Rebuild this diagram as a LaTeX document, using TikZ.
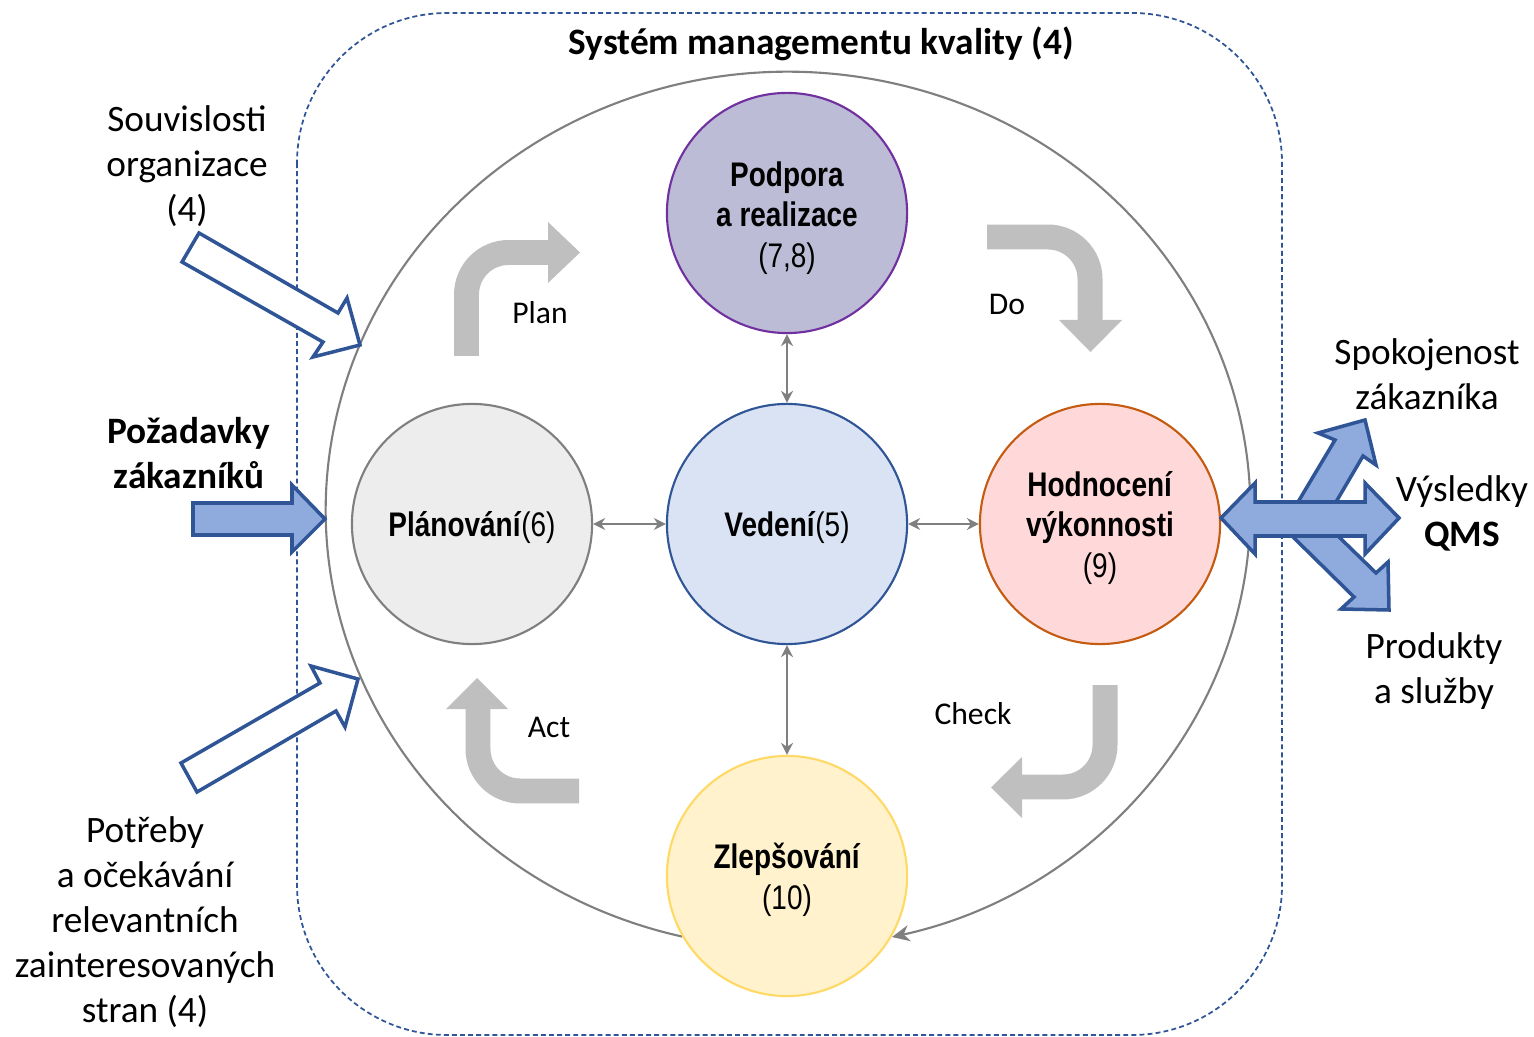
\documentclass[tikz,border=0pt]{standalone}
\usepackage{fontspec}
\setmainfont{Carlito}
\newfontfamily\narrowfont[FakeStretch=0.82]{Liberation Sans}
\usetikzlibrary{arrows.meta}
\definecolor{qblue}{HTML}{2F5597}
\definecolor{qfill}{HTML}{8FAADC}
\definecolor{pgray}{HTML}{BFBFBF}
\definecolor{lgray}{HTML}{7F7F7F}
\definecolor{podfill}{HTML}{BCBCD6}
\definecolor{podline}{HTML}{7030A0}
\definecolor{vedfill}{HTML}{DAE3F3}
\definecolor{planfill}{HTML}{EDEDED}
\definecolor{hodfill}{HTML}{FFD9D9}
\definecolor{hodline}{HTML}{C55A11}
\definecolor{zlfill}{HTML}{FFF2CC}
\definecolor{zlline}{HTML}{FFD966}
\begin{document}
\begin{tikzpicture}[x=0.01cm,y=0.01cm,
  circ/.style={circle, minimum size=2.4cm, inner sep=0pt, line width=0.6pt},
  ctext/.style={align=center, inner sep=0pt,
     font=\narrowfont\fontsize{9.7}{11.6}\selectfont},
  lbl/.style={align=center, inner sep=0pt, font=\fontsize{10.6}{12.8}\selectfont},
  pdca/.style={inner sep=0pt, font=\fontsize{9}{11}\selectfont},
  bendarrow/.style={line width=7.1pt, draw=pgray, rounded corners=0.42cm},
  headarrow/.style={fill=pgray},
  link/.style={draw=lgray, line width=0.6pt, {Stealth[length=3.4pt,width=3.4pt]}-{Stealth[length=3.4pt,width=3.4pt]}},
  arcline/.style={draw=lgray, line width=0.6pt, -{Stealth[length=5pt,width=4.6pt]}},
  hollow/.style={draw=qblue, fill=white, line width=1pt, line join=miter},
  solidarrow/.style={draw=qblue, fill=qfill, line width=1pt, line join=miter},
  frame/.style={draw=qblue, line width=0.5pt, dash pattern=on 1.4pt off 0.9pt, rounded corners=1.5cm}
]
\useasboundingbox (0,0) rectangle (1534,-1037);

% dashed frame
\draw[frame] (297,-13) rectangle (1282,-1035);

% big cycle arc
\coordinate (ellc) at (788,-510);
\draw[arcline] (ellc) ++(256.8:4.62cm and 4.38cm) arc[start angle=256.8, end angle=-77, x radius=4.62cm, y radius=4.38cm];

% title
\node[lbl, font=\bfseries\fontsize{10.6}{12.8}\selectfont] (title) at (821,-44) {Systém managementu kvality (4)};

% circles
\node[circ, draw=podline, fill=podfill] (pod) at (787,-213) {};
\node[circ, draw=qblue, fill=vedfill] (ved) at (787,-524) {};
\node[circ, draw=lgray, fill=planfill] (plan) at (472,-524) {};
\node[circ, draw=hodline, fill=hodfill] (hod) at (1100,-524) {};
\node[circ, draw=zlline, fill=zlfill] (zl) at (787,-876) {};

\node[ctext] (podt) at (787,-218) {\textbf{Podpora}\\\textbf{a realizace}\\(7,8)};
\node[ctext] (vedt) at (787,-528) {\textbf{Vedení}(5)};
\node[ctext] (plant) at (472,-528) {\textbf{Plánování}(6)};
\node[ctext] (hodt) at (1100,-528) {\textbf{Hodnocení}\\\textbf{výkonnosti}\\(9)};
\node[ctext] (zlt) at (787,-880) {\textbf{Zlepšování}\\(10)};

% links
\draw[link] (plan.east) -- (ved.west);
\draw[link] (ved.east) -- (hod.west);
\draw[link] (pod.south) -- (ved.north);
\draw[link] (ved.south) -- (zl.north);

% PDCA bent arrows
\draw[bendarrow] (466.5,-356) -- (466.5,-252.5) -- (549,-252.5);
\fill[headarrow] (548,-222) -- (580,-252.5) -- (548,-283) -- cycle;
\draw[bendarrow] (987,-237) -- (1090,-237) -- (1090,-321);
\fill[headarrow] (1059,-320) -- (1090.5,-352) -- (1122,-320) -- cycle;
\draw[bendarrow] (1105,-685) -- (1105,-787) -- (1021,-787);
\fill[headarrow] (1022,-757) -- (991,-787.5) -- (1022,-818) -- cycle;
\draw[bendarrow] (579,-791) -- (478,-791) -- (478,-708);
\fill[headarrow] (446,-709) -- (477,-678) -- (508,-709) -- cycle;

\node[pdca] (tplan) at (540,-313) {Plan};
\node[pdca] (tdo) at (1007,-304) {Do};
\node[pdca] (tcheck) at (973,-714) {Check};
\node[pdca] (tact) at (549,-727) {Act};

% left inputs
\draw[hollow] (199,-233) -- (338,-313) -- (347,-298) -- (360,-345) -- (313,-357) -- (323,-342) -- (182,-262) -- cycle;
\draw[hollow] (181,-763) -- (320,-683) -- (311,-666) -- (358,-679) -- (345,-727) -- (336,-711) -- (197,-792) -- cycle;
\draw[solidarrow] (193,-503) -- (292,-503) -- (292,-485) -- (325,-519) -- (292,-552) -- (292,-535) -- (193,-535) -- cycle;

\node[lbl] (souv) at (187,-166) {Souvislosti\\organizace\\(4)};
\node[lbl, font=\bfseries\fontsize{10.6}{12.8}\selectfont] (poz) at (189,-453) {Požadavky\\zákazníků};
\node[lbl] (potr) at (145,-922) {Potřeby\\a očekávání\\relevantních\\zainteresovaných\\stran (4)};

% right outputs
\draw[solidarrow] (1298,-502) -- (1335,-440) -- (1318,-433) -- (1365,-420) -- (1376,-465) -- (1363,-456) -- (1336,-502) -- cycle;
\draw[solidarrow] (1338,-536) -- (1376,-573) -- (1388,-562) -- (1389,-610) -- (1341,-609) -- (1354,-597) -- (1292,-536) -- cycle;
\draw[solidarrow] (1221,-518) -- (1255,-483) -- (1255,-502) -- (1365,-502) -- (1365,-483) -- (1399,-518) -- (1365,-554) -- (1365,-536) -- (1255,-536) -- (1255,-554) -- cycle;

\node[lbl] (spok) at (1427,-374) {Spokojenost\\zákazníka};
\node[lbl] (vys) at (1462,-513) {Výsledky\\\textbf{QMS}};
\node[lbl] (prod) at (1434,-671) {Produkty\\a služby};
\end{tikzpicture}
\end{document}
